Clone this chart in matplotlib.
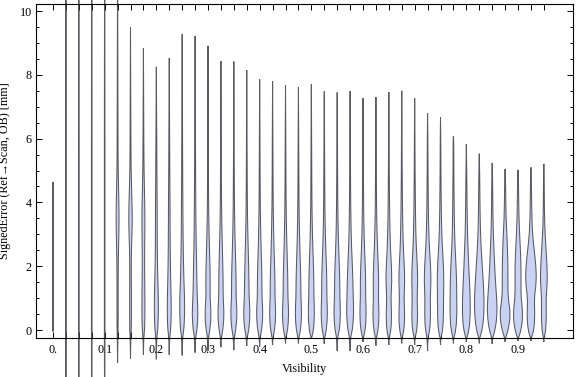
import matplotlib
matplotlib.use("Agg")
import matplotlib.pyplot as plt
from matplotlib.path import Path
from matplotlib.patches import PathPatch
import numpy as np

# ---------------- data ----------------
visibility = [0.0, 0.025, 0.05, 0.075, 0.1, 0.125, 0.15, 0.175, 0.2, 0.225,
              0.25, 0.275, 0.3, 0.325, 0.35, 0.375, 0.4, 0.425, 0.45, 0.475,
              0.5, 0.525, 0.55, 0.575, 0.6, 0.625, 0.65, 0.675, 0.7, 0.725,
              0.75, 0.775, 0.8, 0.825, 0.85, 0.875, 0.9, 0.925, 0.95]

err_min = [-0.05, -3.0, -3.0, -3.0, -3.0, -1.03, -0.9, -0.77, -0.92, -0.78,
           -0.8, -0.71, -0.65, -0.54, -0.63, -0.5, -0.52, -0.47, -0.42, -0.42,
           -0.26, -0.44, -0.66, -0.66, -0.37, -0.49, -0.47, -0.42, -0.47, -0.66,
           -0.47, -0.42, -0.37, -0.42, -0.44, -0.37, -0.34, -0.34, -0.37]

err_max = [4.64, 14.0, 14.0, 14.0, 14.0, 12.0, 9.5, 8.83, 8.25, 8.53,
           9.27, 9.22, 8.91, 8.43, 8.42, 8.15, 7.86, 7.80, 7.68, 7.61,
           7.71, 7.48, 7.45, 7.49, 7.27, 7.30, 7.46, 7.50, 7.26, 6.80,
           6.67, 6.08, 5.83, 5.53, 5.24, 5.05, 5.02, 5.10, 5.21]

# density (arbitrary units) of each violin at fixed error levels [mm]
density_levels = [-0.25, 0.0, 0.5, 1.0, 1.5, 2.0, 2.5, 3.0, 3.5, 4.0, 5.0, 6.0]

dens_m025 = [0.3] * 39
dens_00 = [0.3, 0.3, 0.3, 0.3, 0.3, 0.5, 0.8, 1.2, 1.5, 1.5,
           1.7, 2.0, 2.0, 2.0, 2.0, 2.1, 2.1, 2.1, 2.2, 2.2,
           2.2, 2.2, 2.3, 2.4, 2.3, 2.3, 2.2, 2.3, 2.3, 2.3,
           2.3, 2.5, 2.8, 3.0, 3.0, 3.2, 3.2, 3.0, 2.0]
dens_05 = [0.3, 0.3, 0.3, 0.3, 0.3, 0.6, 0.9, 1.5, 2.0, 2.0,
           2.5, 3.0, 3.2, 3.2, 3.3, 3.3, 3.3, 3.2, 3.3, 3.3,
           3.2, 3.3, 3.4, 3.6, 3.3, 3.2, 2.8, 3.0, 3.0, 3.0,
           3.0, 3.5, 4.0, 4.7, 5.0, 5.5, 5.0, 4.0, 2.5]
dens_10 = [0.3, 0.3, 0.3, 0.3, 0.3, 0.6, 0.9, 1.5, 2.0, 1.9,
           2.4, 2.2, 2.0, 2.2, 2.3, 2.4, 2.3, 2.4, 2.4, 2.5,
           2.6, 2.6, 2.7, 3.2, 2.6, 2.4, 2.0, 2.2, 2.4, 2.6,
           3.0, 3.3, 3.8, 4.8, 4.5, 3.0, 3.0, 3.2, 2.2]
dens_15 = [0.3, 0.3, 0.3, 0.3, 0.3, 0.6, 0.8, 1.3, 1.6, 1.5,
           1.8, 1.8, 2.2, 2.2, 2.3, 2.2, 2.3, 2.4, 2.3, 2.4,
           2.5, 2.6, 2.6, 2.8, 2.7, 2.8, 3.0, 3.0, 3.0, 3.4,
           3.3, 3.2, 3.2, 4.0, 3.3, 2.8, 3.0, 5.5, 3.5]
dens_20 = [0.3, 0.3, 0.3, 0.3, 0.3, 0.7, 0.8, 1.2, 1.2, 1.2,
           1.4, 1.6, 2.0, 1.9, 2.0, 1.9, 2.0, 2.0, 2.0, 2.0,
           2.1, 2.2, 2.2, 2.3, 2.3, 2.4, 2.6, 2.6, 2.7, 3.0,
           3.0, 2.6, 2.4, 3.0, 2.5, 2.8, 3.0, 5.0, 3.2]
dens_25 = [0.3, 0.3, 0.3, 0.3, 0.3, 0.9, 0.9, 1.2, 1.0, 1.0,
           1.1, 1.2, 1.5, 1.5, 1.5, 1.5, 1.5, 1.5, 1.5, 1.5,
           1.6, 1.6, 1.6, 1.6, 1.6, 1.7, 1.7, 1.7, 1.8, 2.0,
           2.0, 1.8, 1.8, 2.0, 1.8, 2.4, 2.4, 3.3, 2.2]
dens_30 = [0.3, 0.3, 0.3, 0.3, 0.3, 1.3, 1.5, 1.4, 0.9, 0.9,
           0.9, 1.0, 1.1, 1.1, 1.1, 1.1, 1.1, 1.1, 1.1, 1.1,
           1.1, 1.1, 1.1, 1.1, 1.1, 1.2, 1.2, 1.2, 1.2, 1.3,
           1.3, 1.2, 1.2, 1.3, 1.2, 1.8, 1.6, 1.6, 1.3]
dens_35 = [0.3, 0.3, 0.3, 0.3, 0.3, 1.5, 1.8, 1.5, 0.9, 0.8,
           0.8, 0.8, 0.8, 0.8, 0.8, 0.8, 0.8, 0.8, 0.8, 0.8,
           0.8, 0.8, 0.8, 0.8, 0.8, 0.8, 0.9, 0.9, 0.9, 0.9,
           0.9, 0.9, 0.9, 0.9, 0.8, 1.0, 1.0, 1.0, 0.7]
dens_40 = [0.3, 0.3, 0.3, 0.3, 0.3, 1.3, 1.5, 1.3, 0.8, 0.8,
           0.7, 0.7, 0.6, 0.6, 0.6, 0.6, 0.6, 0.6, 0.6, 0.6,
           0.6, 0.6, 0.6, 0.6, 0.6, 0.6, 0.7, 0.7, 0.7, 0.7,
           0.7, 0.7, 0.7, 0.7, 0.6, 0.7, 0.7, 0.7, 0.5]
dens_50 = [0.3, 0.3, 0.3, 0.3, 0.3, 0.6, 0.6, 0.6, 0.6, 0.5,
           0.5, 0.5, 0.4, 0.4, 0.4, 0.4, 0.4, 0.4, 0.4, 0.4,
           0.4, 0.4, 0.4, 0.4, 0.4, 0.4, 0.4, 0.4, 0.4, 0.4,
           0.4, 0.4, 0.4, 0.4, 0.3, 0.3, 0.3, 0.3, 0.3]
dens_60 = [0.3, 0.3, 0.3, 0.3, 0.3, 0.4, 0.4, 0.4, 0.4, 0.4,
           0.4, 0.4, 0.3, 0.3, 0.3, 0.3, 0.3, 0.3, 0.3, 0.3,
           0.3, 0.3, 0.3, 0.3, 0.3, 0.3, 0.3, 0.3, 0.3, 0.3,
           0.3, 0.3, 0.3, 0.3, 0.2, 0.2, 0.2, 0.2, 0.2]

x_ticks = [0.0, 0.1, 0.2, 0.3, 0.4, 0.5, 0.6, 0.7, 0.8, 0.9]
x_ticklabels = ["0.", "0.1", "0.2", "0.3", "0.4", "0.5", "0.6", "0.7", "0.8", "0.9"]
y_ticks = [0, 2, 4, 6, 8, 10]
y_ticklabels = ["0", "2", "4", "6", "8", "10"]

# ---------------- figure ----------------
plt.rcParams['font.family'] = ['Liberation Serif', 'DejaVu Serif']
fig = plt.figure(figsize=(5.76, 3.77), dpi=100)
ax = fig.add_axes([36 / 576, 1 - 337.5 / 377, (573 - 36) / 576, (337.5 - 4) / 377])

dens_table = [dens_m025, dens_00, dens_05, dens_10, dens_15, dens_20,
              dens_25, dens_30, dens_35, dens_40, dens_50, dens_60]
width_per_unit = 1.0 / 516.7   # one density unit ~ one pixel half-width

fill_col = '#cad2f3'
edge_col = (0.25, 0.25, 0.28, 0.85)


def smooth_side(pts):
    """Quadratic-Bezier path pieces through the midpoints of a knot polyline."""
    verts = [pts[0]]
    codes = [Path.LINETO]
    if len(pts) > 2:
        verts.append(((pts[0][0] + pts[1][0]) / 2, (pts[0][1] + pts[1][1]) / 2))
        codes.append(Path.LINETO)
        for j in range(1, len(pts) - 1):
            nxt = pts[j + 1]
            mid = ((pts[j][0] + nxt[0]) / 2, (pts[j][1] + nxt[1]) / 2)
            if j == len(pts) - 2:
                mid = nxt
            verts += [pts[j], mid]
            codes += [Path.CURVE3, Path.CURVE3]
    else:
        verts.append(pts[-1])
        codes.append(Path.LINETO)
    return verts, codes


for i, pos in enumerate(visibility):
    lo, hi = err_min[i], err_max[i]
    ys = [lo]
    ws = [0.0]
    for k, lev in enumerate(density_levels):
        if lo < lev < hi:
            ys.append(lev)
            ws.append(dens_table[k][i])
    ys.append(hi)
    ws.append(0.0)
    ws = [w * width_per_unit for w in ws]
    right = [(pos + w, y) for w, y in zip(ws, ys)]
    left = [(pos - w, y) for w, y in zip(ws[::-1], ys[::-1])]
    v1, c1 = smooth_side(right)
    v2, c2 = smooth_side(left)
    c1[0] = Path.MOVETO
    verts = v1 + v2[1:] + [v1[0]]
    codes = c1 + c2[1:] + [Path.CLOSEPOLY]
    patch = PathPatch(Path(verts, codes), facecolor=fill_col, edgecolor=edge_col,
                      linewidth=0.75, clip_on=False, zorder=2)
    ax.add_patch(patch)

ax.set_xlim(-0.0329, 1.0064)
ax.set_ylim(-0.235, 10.22)

ax.set_xticks(x_ticks)
ax.set_xticklabels(x_ticklabels)
ax.set_xticks(visibility, minor=True)
ax.set_yticks(y_ticks)
ax.set_yticklabels(y_ticklabels)
ax.set_yticks(np.arange(0, 10.01, 0.5), minor=True)

ax.tick_params(axis='both', which='both', direction='in', top=True, right=True,
               labelsize=8.7, width=0.7, colors='black')
ax.tick_params(axis='x', which='major', length=4, pad=5)
ax.tick_params(axis='x', which='minor', length=4)
ax.tick_params(axis='y', which='major', length=4.5, pad=3)
ax.tick_params(axis='y', which='minor', length=2.5)

for s in ax.spines.values():
    s.set_linewidth(0.8)
    s.set_zorder(3)

ax.set_xlabel("Visibility", fontsize=8.7, labelpad=5)
ax.set_ylabel("SignedError (Ref\u2192Scan, OB) [mm]", fontsize=8.7, labelpad=6)

fig.savefig("out.png", dpi=100)
